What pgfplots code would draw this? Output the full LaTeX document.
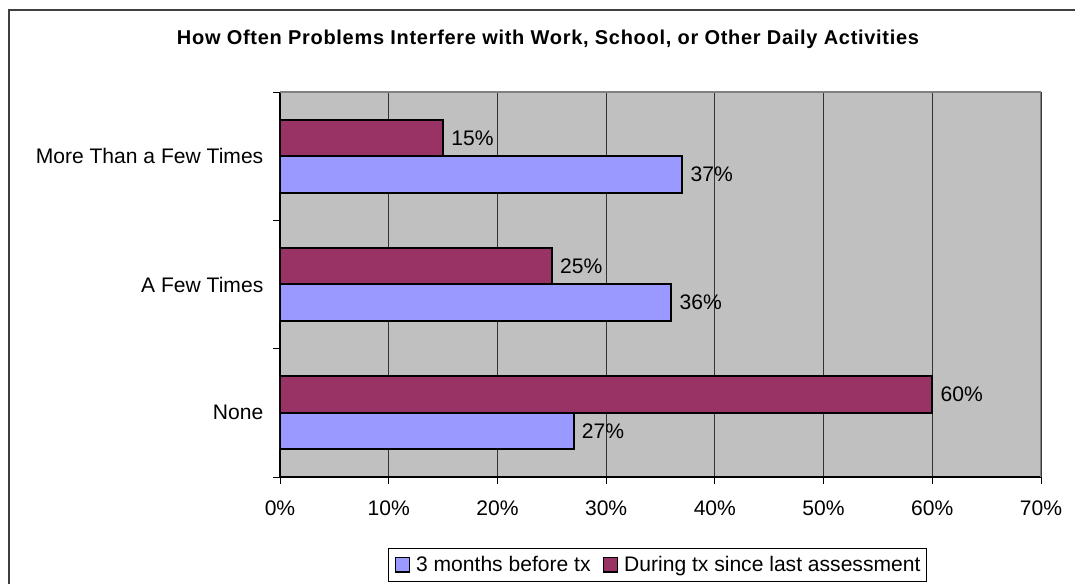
\documentclass[border=0pt]{standalone}
\usepackage{fontspec}
\setmainfont{Liberation Sans}
\usepackage{pgfplots}
\pgfplotsset{compat=1.18}
\definecolor{barblue}{HTML}{9999FF}
\definecolor{barmaroon}{HTML}{993366}
\definecolor{plotgray}{HTML}{C0C0C0}
\newcommand{\lblfont}{\fontsize{15.8}{18}\selectfont}

\begin{document}
\begin{tikzpicture}[x=0.75pt,y=0.75pt]
% outer chart frame (only top and left edges are inside the crop)
\draw[line width=1.5pt, black!75] (1300,574) -- (9,574) -- (9,-60);
\node[font=\bfseries\fontsize{15}{18}\selectfont\addfontfeatures{LetterSpace=3.5}] at (548,545)
  {How Often Problems Interfere with Work, School, or Other Daily Activities};

\begin{axis}[
    at={(210pt,80.25pt)}, anchor=south west,
    scale only axis,
    width=570.75pt, height=288.75pt,
    xbar,
    xmin=0, xmax=70,
    ymin=0, ymax=3,
    axis background/.style={fill=plotgray},
    axis x line*=bottom, axis y line*=left,
    axis line style={black, line width=1.2pt},
    xtick={0,10,...,70},
    xticklabel={\pgfmathprintnumber{\tick}\%},
    xmajorgrids,
    major grid style={black!80, line width=0.7pt},
    ytick={0.5,1.5,2.5},
    yticklabels={None, A Few Times, More Than a Few Times},
    minor ytick={0,1,2,3},
    major y tick style={draw=none},
    minor y tick style={black, line width=0.7pt},
    major x tick style={black, line width=0.7pt},
    tick align=outside,
    major tick length=5pt,
    minor tick length=5pt,
    tick label style={font=\lblfont},
    /pgf/number format/assume math mode=true,
    xticklabel style={yshift=-9pt},
    yticklabel style={xshift=-4pt},
    nodes near coords={\pgfmathprintnumber{\pgfplotspointmeta}\%},
    nodes near coords style={font=\lblfont, anchor=west, inner sep=0pt, xshift=5.5pt, black},
    legend style={at={(0.142,-0.184)}, anchor=north west, legend columns=2,
        draw=black, line width=0.7pt, fill=white,
        font=\lblfont, inner xsep=4.5pt, inner ysep=6pt,
        nodes={inner sep=0pt},
        /tikz/every odd column/.append style={column sep=4.5pt},
        /tikz/every even column/.append style={column sep=9pt}},
    legend image code/.code={\draw[#1, line width=1.2pt] (0pt,-5.5pt) rectangle (10.5pt,5.5pt);},
]
\draw[draw=gray, line width=1.5pt] (axis cs:0,3) -- (axis cs:70,3) -- (axis cs:70,0);

% 3 months before tx
\addplot[fill=barblue, draw=black, line width=1.5pt, bar width=0.284, bar shift=-0.142]
  coordinates {(27,0.5) (36,1.5) (37,2.5)};
\addlegendentry{3 months before tx}

% During tx since last assessment
\addplot[fill=barmaroon, draw=black, line width=1.5pt, bar width=0.284, bar shift=0.142]
  coordinates {(60,0.5) (25,1.5) (15,2.5)};
\addlegendentry{During tx since last assessment}
\end{axis}
\pgfresetboundingbox
\useasboundingbox (0,0) rectangle (1075,584);
\end{tikzpicture}
\end{document}
